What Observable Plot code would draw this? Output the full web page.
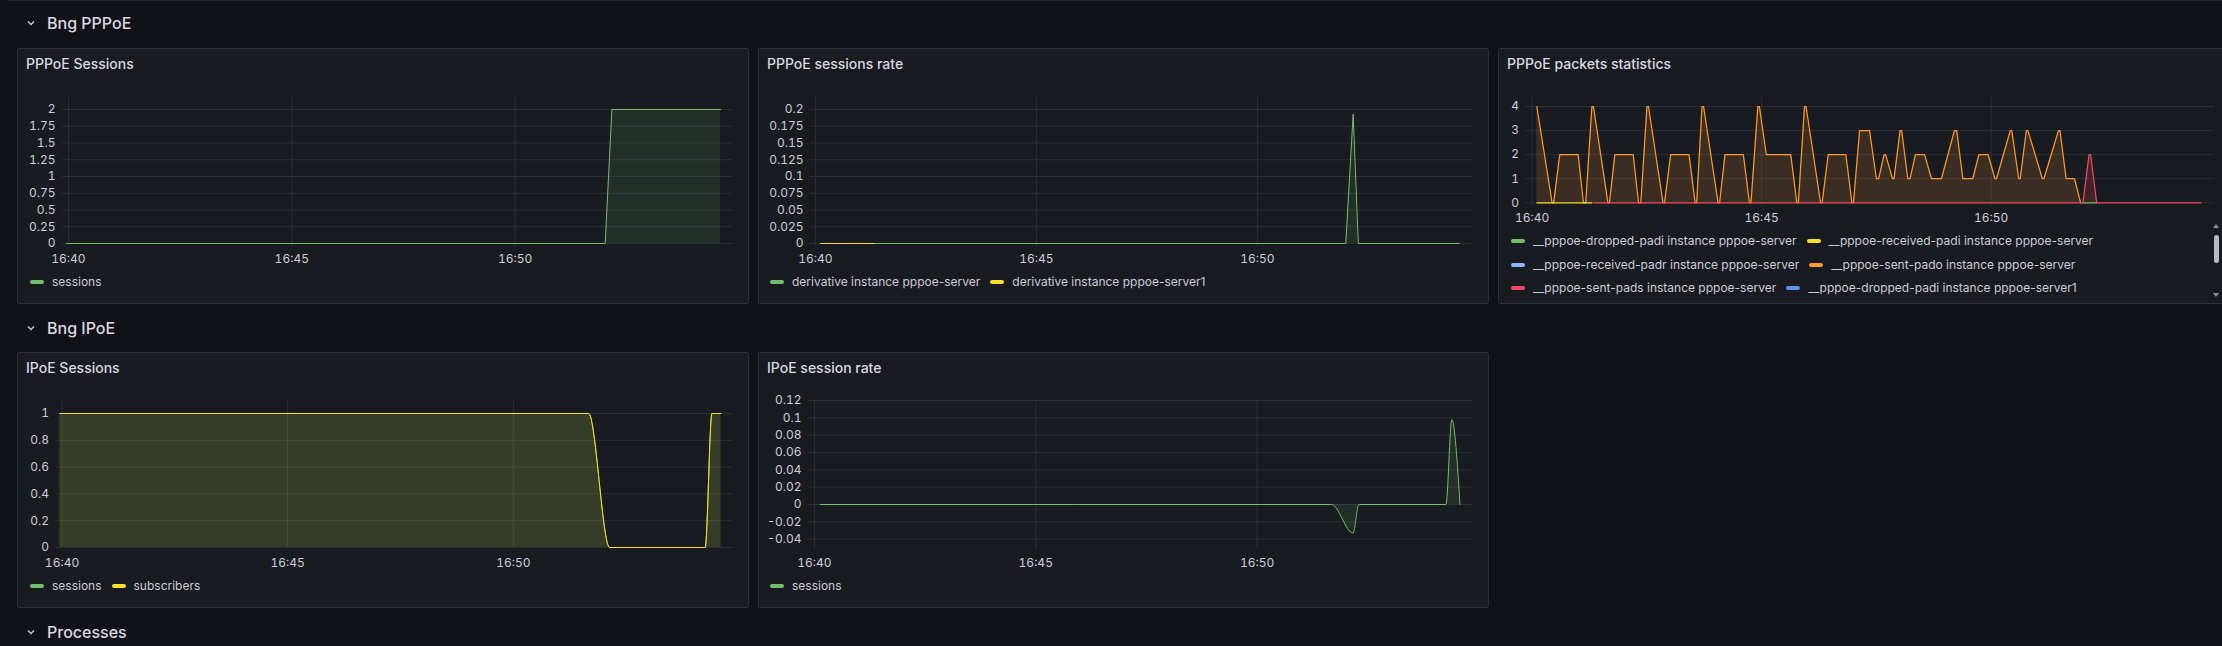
<!DOCTYPE html>
<html><head><meta charset="utf-8">
<script src="https://cdn.jsdelivr.net/npm/d3@7"></script>
<script src="https://cdn.jsdelivr.net/npm/@observablehq/plot@0.6"></script>
<style>
html,body{margin:0;padding:0;background:#111217;}
body{width:2222px;height:646px;position:relative;overflow:hidden;font-family:Inter,"Noto Sans",sans-serif;color:#ccccdc;}
.row-title{position:absolute;font-size:16px;font-weight:500;line-height:20px;white-space:nowrap;color:#d8d9e3;}
.panel{position:absolute;background:#181b1f;border:1px solid #2d3035;border-radius:2px;box-sizing:border-box;}
.ptitle{position:absolute;font-size:14px;font-weight:500;line-height:18px;white-space:nowrap;color:#d8d9e3;}
.legend{position:absolute;display:flex;flex-wrap:wrap;font-size:12px;line-height:16px;color:#ccccdc;}
.item{display:flex;align-items:center;height:23.5px;margin-right:10px;white-space:nowrap;}
.sw{width:14px;height:4px;border-radius:2px;margin-right:8px;flex:none;}
</style></head><body>
<script>
// ---------- data ----------
const timeRange = ["16:39:52", "16:54:52"];
const xTickLabels = ["16:40", "16:45", "16:50"];

const rowTitles = ["Bng PPPoE", "Bng IPoE", "Processes"];

// PPPoE Sessions
const pppoeSessionsTime  = ["16:39:57", "16:52:01", "16:52:10", "16:54:36"];
const pppoeSessionsValue = [0, 0, 2, 2];
const pppoeSessionsTicks = [0, 0.25, 0.5, 0.75, 1, 1.25, 1.5, 1.75, 2];

// PPPoE sessions rate
const rateServerTime   = ["16:40:07", "16:52:00", "16:52:10", "16:52:17", "16:54:34"];
const rateServerValue  = [0, 0, 0.193, 0, 0];
const rateServer1Time  = ["16:40:07", "16:41:19"];
const rateServer1Value = [0, 0];
const rateTicks = [0, 0.025, 0.05, 0.075, 0.1, 0.125, 0.15, 0.175, 0.2];

// PPPoE packets statistics
const padoTime = ["16:40:06","16:40:26","16:40:28","16:40:36","16:41:00","16:41:07","16:41:10","16:41:18","16:41:20",
  "16:41:39","16:41:41","16:41:48","16:42:12","16:42:19","16:42:22","16:42:30","16:42:32","16:42:51","16:42:53",
  "16:43:01","16:43:25","16:43:33","16:43:35","16:43:42","16:43:44","16:44:03","16:44:05","16:44:12","16:44:36",
  "16:44:44","16:44:46","16:44:55","16:44:57","16:45:06","16:45:38","16:45:46","16:45:48","16:45:56","16:45:58",
  "16:46:17","16:46:19","16:46:27","16:46:50","16:46:58","16:47:00","16:47:08","16:47:21","16:47:30","16:47:33",
  "16:47:40","16:47:42","16:47:51","16:47:53","16:48:01","16:48:03","16:48:11","16:48:14","16:48:21","16:48:33",
  "16:48:42","16:48:55","16:49:12","16:49:15","16:49:23","16:49:36","16:49:44","16:49:56","16:50:05","16:50:07",
  "16:50:25","16:50:27","16:50:36","16:50:38","16:50:46","16:50:48","16:51:07","16:51:09","16:51:28","16:51:30",
  "16:51:38","16:51:49","16:51:57"];
const padoValue = [4,0,0,2,2,0,0,4,4,
  0,0,2,2,0,0,4,4,0,0,
  2,2,0,0,4,4,0,0,2,2,
  0,0,4,4,2,2,0,0,4,4,
  0,0,2,2,0,0,3,3,1,1,
  2,2,1,1,3,3,1,1,2,2,
  1,1,3,3,1,1,2,2,1,1,
  3,3,1,1,3,3,1,1,3,3,
  1,1,0];
const padiRecvTime  = ["16:40:06", "16:41:18"];
const padiRecvValue = [0, 0];
const padsTime  = ["16:41:20", "16:52:00", "16:52:08", "16:52:10", "16:52:18", "16:54:34"];
const padsValue = [0, 0, 2, 2, 0, 0];
const padiDropTime  = ["16:52:00", "16:52:18"];
const padiDropValue = [0, 0];
const packetTicks = [0, 1, 2, 3, 4];
const packetLegend = [
  "__pppoe-dropped-padi instance pppoe-server",
  "__pppoe-received-padi instance pppoe-server",
  "__pppoe-received-padr instance pppoe-server",
  "__pppoe-sent-pado instance pppoe-server",
  "__pppoe-sent-pads instance pppoe-server",
  "__pppoe-dropped-padi instance pppoe-server1"];

// IPoE Sessions
const ipoeTime        = ["16:39:57", "16:51:40", "16:52:08", "16:54:15", "16:54:24", "16:54:36"];
const ipoeSessions    = [1, 1, 0, 0, 1, 1];
const ipoeSubscribers = [1, 1, 0, 0, 1, 1];
const ipoeTicks = [0, 0.2, 0.4, 0.6, 0.8, 1];

// IPoE session rate
const ipoeRateTime  = ["16:40:08", "16:51:41", "16:52:10", "16:52:18", "16:54:16", "16:54:24", "16:54:35"];
const ipoeRateValue = [0, 0, -0.033, 0, 0, 0.098, 0];
const ipoeRateTicks = [-0.04, -0.02, 0, 0.02, 0.04, 0.06, 0.08, 0.1, 0.12];

// ---------- colours ----------
const GREEN = "#73BF69", YELLOW = "#FADE2A", LBLUE = "#8AB8FF", ORANGE = "#FF9830", RED = "#F2495C", BLUE = "#5794F2";
const GRID = "#2c2f35";

// ---------- helpers ----------
const parseT = d3.utcParse("%H:%M:%S");
const rows = (times, values) => times.map((t, i) => ({t: parseT(t), v: values[i]}));
const xTicks = xTickLabels.map(s => parseT(s + ":00"));

function el(tag, cls, css, text) {
  const e = document.createElement(tag);
  if (cls) e.className = cls;
  Object.assign(e.style, css || {});
  if (text != null) e.textContent = text;
  document.body.appendChild(e);
  return e;
}

function rowTitle(text, cy) {
  const svgNS = "http://www.w3.org/2000/svg";
  const s = document.createElementNS(svgNS, "svg");
  s.setAttribute("width", 10); s.setAttribute("height", 8);
  s.style.position = "absolute"; s.style.left = "26px"; s.style.top = (cy - 3) + "px";
  const p = document.createElementNS(svgNS, "path");
  p.setAttribute("d", "M2 1.5 L5 4.5 L8 1.5");
  p.setAttribute("fill", "none"); p.setAttribute("stroke", "#ccccdc"); p.setAttribute("stroke-width", "1.4");
  s.appendChild(p); document.body.appendChild(s);
  el("div", "row-title", {left: "47px", top: (cy - 10) + "px"}, text);
}

function panel(left, top, width, height, title) {
  el("div", "panel", {left: left + "px", top: top + "px", width: width + "px", height: height + "px"});
  el("div", "ptitle", {left: (left + 9) + "px", top: (top + 7) + "px"}, title);
}

function legend(left, top, width, items) {
  const lg = el("div", "legend", {left: left + "px", top: top + "px", width: width + "px"});
  for (const [name, color] of items) {
    const it = document.createElement("div"); it.className = "item";
    const sw = document.createElement("div"); sw.className = "sw"; sw.style.background = color;
    const tx = document.createElement("span"); tx.textContent = name;
    it.appendChild(sw); it.appendChild(tx); lg.appendChild(it);
  }
}

function chart(o) {
  const marks = [
    Plot.gridY(o.yTicks, {stroke: GRID, strokeOpacity: 1}),
    Plot.gridX(xTicks, {stroke: GRID, strokeOpacity: 1})
  ];
  for (const s of o.series) {
    if (s.fill) marks.push(Plot.areaY(s.data, {x: "t", y: "v", fill: s.color, fillOpacity: s.fill, curve: o.curve || "linear"}));
    marks.push(Plot.lineY(s.data, {x: "t", y: "v", stroke: s.color, strokeWidth: s.width || 1, curve: o.curve || "linear"}));
  }
  marks.push(Plot.axisY(o.yTicks, {tickSize: 0, tickPadding: o.yPad, tickFormat: d => String(d), label: null}));
  marks.push(Plot.axisX(xTicks, {tickSize: 0, tickPadding: o.xPad, label: null,
    tickFormat: d => xTickLabels[xTicks.findIndex(t => +t === +d)]}));
  const svg = Plot.plot({
    width: o.width, height: o.height,
    marginLeft: o.mL, marginRight: o.mR, marginTop: o.mT, marginBottom: o.mB,
    x: {type: "utc", domain: [parseT(timeRange[0]), parseT(timeRange[1])], label: null},
    y: {domain: o.yDomain, label: null},
    style: {background: "transparent", color: "#ccccdc", fontFamily: "Inter, 'Noto Sans', sans-serif", fontSize: "12px", overflow: "visible"},
    marks
  });
  svg.style.position = "absolute";
  svg.style.left = o.left + "px";
  svg.style.top = o.top + "px";
  document.body.appendChild(svg);
}

// ---------- layout ----------
el("div", null, {position: "absolute", left: "8px", top: "0px", width: "2214px", height: "1px", background: "#26282e"});

rowTitle(rowTitles[0], 23);
rowTitle(rowTitles[1], 328);
rowTitle(rowTitles[2], 632);

panel(17, 48, 732, 256, "PPPoE Sessions");
panel(758, 48, 731, 256, "PPPoE sessions rate");
panel(1498, 48, 740, 256, "PPPoE packets statistics");
panel(17, 352, 732, 256, "IPoE Sessions");
panel(758, 352, 731, 256, "IPoE session rate");

chart({left: 17, top: 85, width: 732, height: 187, mL: 45, mR: 17, mT: 12, mB: 26,
  yDomain: [-0.0448, 2.179], yTicks: pppoeSessionsTicks, yPad: 7, xPad: 8,
  series: [{data: rows(pppoeSessionsTime, pppoeSessionsValue), color: GREEN, fill: 0.12}]});

chart({left: 758, top: 85, width: 731, height: 187, mL: 51, mR: 17, mT: 12, mB: 26,
  yDomain: [-0.00448, 0.2179], yTicks: rateTicks, yPad: 6, xPad: 8,
  series: [
    {data: rows(rateServerTime, rateServerValue), color: GREEN, fill: 0.12},
    {data: rows(rateServer1Time, rateServer1Value), color: YELLOW, fill: 0.12}]});

chart({left: 1498, top: 85, width: 732, height: 147, mL: 27.6, mR: 16, mT: 12, mB: 26.3,
  yDomain: [-0.141, 4.374], yTicks: packetTicks, yPad: 7, xPad: 7.2,
  series: [
    {data: rows(padoTime, padoValue), color: ORANGE, fill: 0.15, width: 1.25},
    {data: rows(padiRecvTime, padiRecvValue), color: YELLOW, width: 1.25},
    {data: rows(padiDropTime, padiDropValue), color: GREEN, width: 1.25},
    {data: rows(padsTime, padsValue), color: RED, fill: 0.18, width: 1.25}]});

chart({left: 17, top: 388, width: 732, height: 188, mL: 38.5, mR: 16.5, mT: 12, mB: 28,
  yDomain: [-0.0075, 1.097], yTicks: ipoeTicks, yPad: 7, xPad: 9.9, curve: "monotone-x",
  series: [
    {data: rows(ipoeTime, ipoeSessions), color: GREEN, fill: 0.1},
    {data: rows(ipoeTime, ipoeSubscribers), color: YELLOW, fill: 0.1}]});

chart({left: 758, top: 388, width: 731, height: 188, mL: 50, mR: 17, mT: 12, mB: 27,
  yDomain: [-0.0519, 0.12], yTicks: ipoeRateTicks, yPad: 7, xPad: 8.9, curve: "monotone-x",
  series: [{data: rows(ipoeRateTime, ipoeRateValue), color: GREEN, fill: 0.12}]});

legend(30, 270.25, 600, [["sessions", GREEN]]);
legend(770, 270.25, 700, [["derivative instance pppoe-server", GREEN], ["derivative instance pppoe-server1", YELLOW]]);
legend(1511, 229.25, 680, packetLegend.map((n, i) => [n, [GREEN, YELLOW, LBLUE, ORANGE, RED, BLUE][i]]));
legend(30, 574.25, 600, [["sessions", GREEN], ["subscribers", YELLOW]]);
legend(770, 574.25, 600, [["sessions", GREEN]]);

// legend scrollbar (panel 3)
el("div", null, {position: "absolute", left: "2213px", top: "224px", width: "0", height: "0",
  borderLeft: "3px solid transparent", borderRight: "3px solid transparent", borderBottom: "4px solid #8e8e95"});
el("div", null, {position: "absolute", left: "2213.5px", top: "235px", width: "5px", height: "28px", borderRadius: "3px", background: "#b9b9c0"});
el("div", null, {position: "absolute", left: "2213px", top: "293px", width: "0", height: "0",
  borderLeft: "3px solid transparent", borderRight: "3px solid transparent", borderTop: "4px solid #8e8e95"});
</script>
</body></html>
